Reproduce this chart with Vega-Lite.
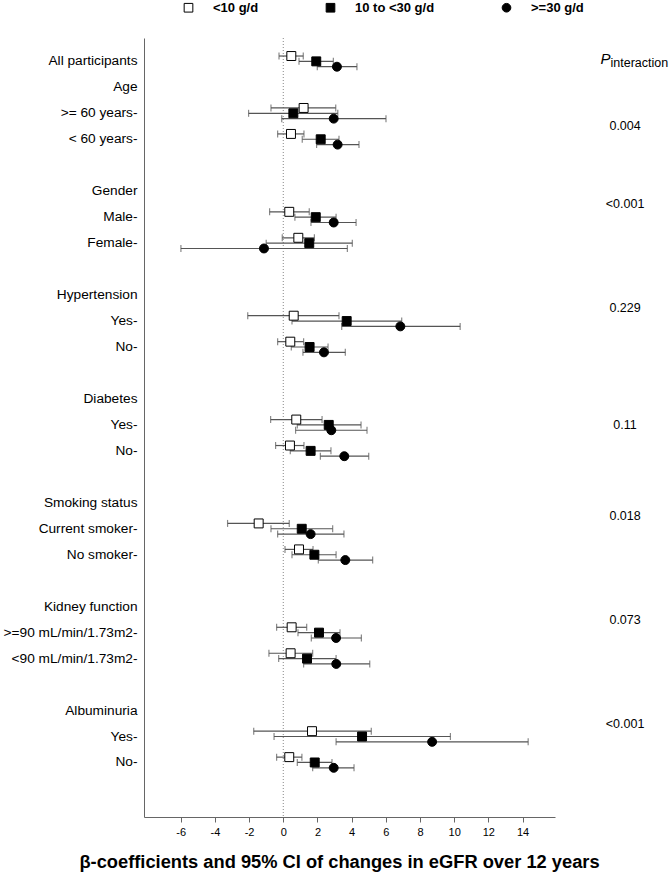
{
  "$schema": "https://vega.github.io/schema/vega-lite/v6.json",
  "autosize": {"type": "none"},
  "width": 411,
  "height": 779,
  "padding": {"left": 144, "top": 38, "right": 116, "bottom": 67},
  "background": "white",
  "config": {
    "view": {"stroke": null},
    "font": "Liberation Sans",
    "legend": {"labelFont": "Liberation Sans", "labelFontSize": 13, "labelFontWeight": "bold", "labelColor": "black"}
  },
  "datasets": {
    "est": [
      {"row": "|All participants", "group": "<10 g/d", "lo": -0.25, "est": 0.47, "hi": 1.17},
      {"row": "|All participants", "group": "10 to <30 g/d", "lo": 0.92, "est": 1.93, "hi": 2.93},
      {"row": "|All participants", "group": ">=30 g/d", "lo": 1.99, "est": 3.14, "hi": 4.31},
      {"row": "Age|>= 60 years-", "group": "<10 g/d", "lo": -0.72, "est": 1.19, "hi": 3.07},
      {"row": "Age|>= 60 years-", "group": "10 to <30 g/d", "lo": -2.03, "est": 0.59, "hi": 3.19},
      {"row": "Age|>= 60 years-", "group": ">=30 g/d", "lo": -0.09, "est": 2.95, "hi": 6.01},
      {"row": "Age|< 60 years-", "group": "<10 g/d", "lo": -0.33, "est": 0.45, "hi": 1.21},
      {"row": "Age|< 60 years-", "group": "10 to <30 g/d", "lo": 1.11, "est": 2.19, "hi": 3.26},
      {"row": "Age|< 60 years-", "group": ">=30 g/d", "lo": 1.95, "est": 3.18, "hi": 4.43},
      {"row": "Gender|Male-", "group": "<10 g/d", "lo": -0.8, "est": 0.35, "hi": 1.52},
      {"row": "Gender|Male-", "group": "10 to <30 g/d", "lo": 0.68, "est": 1.9, "hi": 3.09},
      {"row": "Gender|Male-", "group": ">=30 g/d", "lo": 1.62, "est": 2.95, "hi": 4.26},
      {"row": "Gender|Female-", "group": "<10 g/d", "lo": -0.06, "est": 0.88, "hi": 1.82},
      {"row": "Gender|Female-", "group": "10 to <30 g/d", "lo": -1.0, "est": 1.52, "hi": 4.04},
      {"row": "Gender|Female-", "group": ">=30 g/d", "lo": -5.99, "est": -1.13, "hi": 3.75},
      {"row": "Hypertension|Yes-", "group": "<10 g/d", "lo": -2.08, "est": 0.61, "hi": 3.26},
      {"row": "Hypertension|Yes-", "group": "10 to <30 g/d", "lo": 0.51, "est": 3.71, "hi": 6.93},
      {"row": "Hypertension|Yes-", "group": ">=30 g/d", "lo": 3.42, "est": 6.85, "hi": 10.35},
      {"row": "Hypertension|No-", "group": "<10 g/d", "lo": -0.33, "est": 0.41, "hi": 1.19},
      {"row": "Hypertension|No-", "group": "10 to <30 g/d", "lo": 0.47, "est": 1.54, "hi": 2.62},
      {"row": "Hypertension|No-", "group": ">=30 g/d", "lo": 1.15, "est": 2.38, "hi": 3.63},
      {"row": "Diabetes|Yes-", "group": "<10 g/d", "lo": -0.74, "est": 0.76, "hi": 2.27},
      {"row": "Diabetes|Yes-", "group": "10 to <30 g/d", "lo": 0.82, "est": 2.66, "hi": 4.55},
      {"row": "Diabetes|Yes-", "group": ">=30 g/d", "lo": 0.72, "est": 2.81, "hi": 4.9},
      {"row": "Diabetes|No-", "group": "<10 g/d", "lo": -0.45, "est": 0.39, "hi": 1.21},
      {"row": "Diabetes|No-", "group": "10 to <30 g/d", "lo": 0.41, "est": 1.6, "hi": 2.79},
      {"row": "Diabetes|No-", "group": ">=30 g/d", "lo": 2.17, "est": 3.57, "hi": 5.0},
      {"row": "Smoking|Current smoker-", "group": "<10 g/d", "lo": -3.26, "est": -1.44, "hi": 0.35},
      {"row": "Smoking|Current smoker-", "group": "10 to <30 g/d", "lo": -0.72, "est": 1.08, "hi": 2.89},
      {"row": "Smoking|Current smoker-", "group": ">=30 g/d", "lo": -0.33, "est": 1.6, "hi": 3.55},
      {"row": "Smoking|No smoker-", "group": "<10 g/d", "lo": 0.1, "est": 0.92, "hi": 1.74},
      {"row": "Smoking|No smoker-", "group": "10 to <30 g/d", "lo": 0.51, "est": 1.82, "hi": 3.09},
      {"row": "Smoking|No smoker-", "group": ">=30 g/d", "lo": 2.05, "est": 3.63, "hi": 5.23},
      {"row": "Kidney|>=90 mL/min/1.73m2-", "group": "<10 g/d", "lo": -0.39, "est": 0.49, "hi": 1.37},
      {"row": "Kidney|>=90 mL/min/1.73m2-", "group": "10 to <30 g/d", "lo": 0.86, "est": 2.09, "hi": 3.32},
      {"row": "Kidney|>=90 mL/min/1.73m2-", "group": ">=30 g/d", "lo": 1.64, "est": 3.09, "hi": 4.57},
      {"row": "Kidney|<90 mL/min/1.73m2-", "group": "<10 g/d", "lo": -0.84, "est": 0.43, "hi": 1.72},
      {"row": "Kidney|<90 mL/min/1.73m2-", "group": "10 to <30 g/d", "lo": -0.27, "est": 1.39, "hi": 3.09},
      {"row": "Kidney|<90 mL/min/1.73m2-", "group": ">=30 g/d", "lo": 1.19, "est": 3.1, "hi": 5.06},
      {"row": "Albuminuria|Yes-", "group": "<10 g/d", "lo": -1.73, "est": 1.68, "hi": 5.15},
      {"row": "Albuminuria|Yes-", "group": "10 to <30 g/d", "lo": -0.54, "est": 4.61, "hi": 9.78},
      {"row": "Albuminuria|Yes-", "group": ">=30 g/d", "lo": 3.09, "est": 8.71, "hi": 14.33},
      {"row": "Albuminuria|No-", "group": "<10 g/d", "lo": -0.39, "est": 0.35, "hi": 1.09},
      {"row": "Albuminuria|No-", "group": "10 to <30 g/d", "lo": 0.82, "est": 1.84, "hi": 2.85},
      {"row": "Albuminuria|No-", "group": ">=30 g/d", "lo": 1.72, "est": 2.95, "hi": 4.14}
    ],
    "pvals": [
      {"row": "Age|>= 60 years-", "p": "0.004"},
      {"row": "|Gender", "p": "<0.001"},
      {"row": "|Hypertension", "p": "0.229"},
      {"row": "|Smoking status", "p": "0.018"},
      {"row": "|Kidney function", "p": "0.073"},
      {"row": "|Albuminuria", "p": "<0.001"}
    ],
    "pvals2": [
      {"row": "Diabetes|Yes-", "p": "0.11"}
    ],
    "phead": [
      {"row": "|All participants", "main": "P", "sub": "interaction"}
    ]
  },
  "layer": [
    {
      "data": {"values": [{"zero": 0}]},
      "mark": {"type": "rule", "color": "#888888", "strokeDash": [1, 2], "strokeWidth": 1},
      "encoding": {
        "x": {"field": "zero", "type": "quantitative", "scale": {"domain": [-8.15, 15.9], "nice": false, "zero": false},
          "axis": {"values": [-6, -4, -2, 0, 2, 4, 6, 8, 10, 12, 14], "labelExpr": "'' + datum.value", "grid": false, "domainColor": "#666666", "tickColor": "#666666", "tickSize": 5,
            "labelFont": "Liberation Sans", "labelFontSize": 11, "labelColor": "black", "labelPadding": 4,
            "title": "β-coefficients and 95% CI of changes in eGFR over 12 years", "titleFont": "Liberation Sans", "titleFontSize": 18.3, "titleFontWeight": "bold", "titleColor": "black",
            "titleX": 195, "titleY": 45, "titleAnchor": "middle", "titleBaseline": "middle"}}
      }
    },
    {
      "data": {"name": "est"},
      "mark": {"type": "rule", "strokeWidth": 1.2, "color": "#555555"},
      "encoding": {
        "y": {"field": "row", "type": "nominal", "title": null,
          "scale": {"type": "band", "domain": ["|All participants", "|Age", "Age|>= 60 years-", "Age|< 60 years-", "gap1|", "|Gender", "Gender|Male-", "Gender|Female-", "gap2|", "|Hypertension", "Hypertension|Yes-", "Hypertension|No-", "gap3|", "|Diabetes", "Diabetes|Yes-", "Diabetes|No-", "gap4|", "|Smoking status", "Smoking|Current smoker-", "Smoking|No smoker-", "gap5|", "|Kidney function", "Kidney|>=90 mL/min/1.73m2-", "Kidney|<90 mL/min/1.73m2-", "gap6|", "|Albuminuria", "Albuminuria|Yes-", "Albuminuria|No-"], "paddingInner": 0, "paddingOuter": 1.1, "align": 0.2},
          "axis": {"labelExpr": "split(datum.label, '|')[1]", "ticks": false, "domainColor": "#666666", "labelFont": "Liberation Sans", "labelFontSize": 13.7, "labelColor": "black", "labelPadding": 7, "labelLimit": 0}},
        "yOffset": {"field": "group", "type": "nominal", "scale": {"domain": ["<10 g/d", "10 to <30 g/d", ">=30 g/d"], "paddingInner": 0, "paddingOuter": 0.93}},
        "x": {"field": "lo", "type": "quantitative"},
        "x2": {"field": "hi"}
      }
    },
    {
      "data": {"name": "est"},
      "mark": {"type": "tick", "orient": "vertical", "size": 7, "thickness": 1.2, "color": "#555555"},
      "encoding": {
        "y": {"field": "row", "type": "nominal"},
        "yOffset": {"field": "group", "type": "nominal"},
        "x": {"field": "lo", "type": "quantitative"}
      }
    },
    {
      "data": {"name": "est"},
      "mark": {"type": "tick", "orient": "vertical", "size": 7, "thickness": 1.2, "color": "#555555"},
      "encoding": {
        "y": {"field": "row", "type": "nominal"},
        "yOffset": {"field": "group", "type": "nominal"},
        "x": {"field": "hi", "type": "quantitative"}
      }
    },
    {
      "data": {"name": "est"},
      "mark": {"type": "point", "filled": true, "stroke": "black", "strokeWidth": 1, "opacity": 1, "size": 80},
      "encoding": {
        "y": {"field": "row", "type": "nominal"},
        "yOffset": {"field": "group", "type": "nominal"},
        "x": {"field": "est", "type": "quantitative"},
        "fill": {"field": "group", "type": "nominal", "title": null,
          "scale": {"domain": ["<10 g/d", "10 to <30 g/d", ">=30 g/d"], "range": ["white", "black", "black"]},
          "legend": {"orient": "none", "direction": "horizontal", "legendX": 38, "legendY": -37, "padding": 0, "columnPadding": 65, "labelOffset": 18, "symbolSize": 75, "symbolStrokeColor": "black", "symbolStrokeWidth": 1}},
        "shape": {"field": "group", "type": "nominal", "title": null,
          "scale": {"domain": ["<10 g/d", "10 to <30 g/d", ">=30 g/d"], "range": ["square", "square", "circle"]}}
      }
    },
    {
      "data": {"name": "pvals"},
      "mark": {"type": "text", "font": "Liberation Sans", "fontSize": 12.5, "align": "center", "baseline": "middle", "color": "black"},
      "encoding": {
        "y": {"field": "row", "type": "nominal", "bandPosition": 1},
        "x": {"datum": 20, "type": "quantitative"},
        "text": {"field": "p"}
      }
    },
    {
      "data": {"name": "pvals2"},
      "mark": {"type": "text", "font": "Liberation Sans", "fontSize": 12.5, "align": "center", "baseline": "middle", "color": "black"},
      "encoding": {
        "y": {"field": "row", "type": "nominal"},
        "x": {"datum": 20, "type": "quantitative"},
        "text": {"field": "p"}
      }
    },
    {
      "data": {"name": "phead"},
      "mark": {"type": "text", "font": "Liberation Sans", "fontSize": 15, "fontStyle": "italic", "align": "right", "baseline": "middle", "color": "black", "dy": -2},
      "encoding": {
        "y": {"field": "row", "type": "nominal"},
        "x": {"datum": 19.15, "type": "quantitative"},
        "text": {"field": "main"}
      }
    },
    {
      "data": {"name": "phead"},
      "mark": {"type": "text", "font": "Liberation Sans", "fontSize": 12.5, "align": "left", "baseline": "middle", "color": "black", "dy": 2},
      "encoding": {
        "y": {"field": "row", "type": "nominal"},
        "x": {"datum": 19.15, "type": "quantitative"},
        "text": {"field": "sub"}
      }
    }
  ]
}
